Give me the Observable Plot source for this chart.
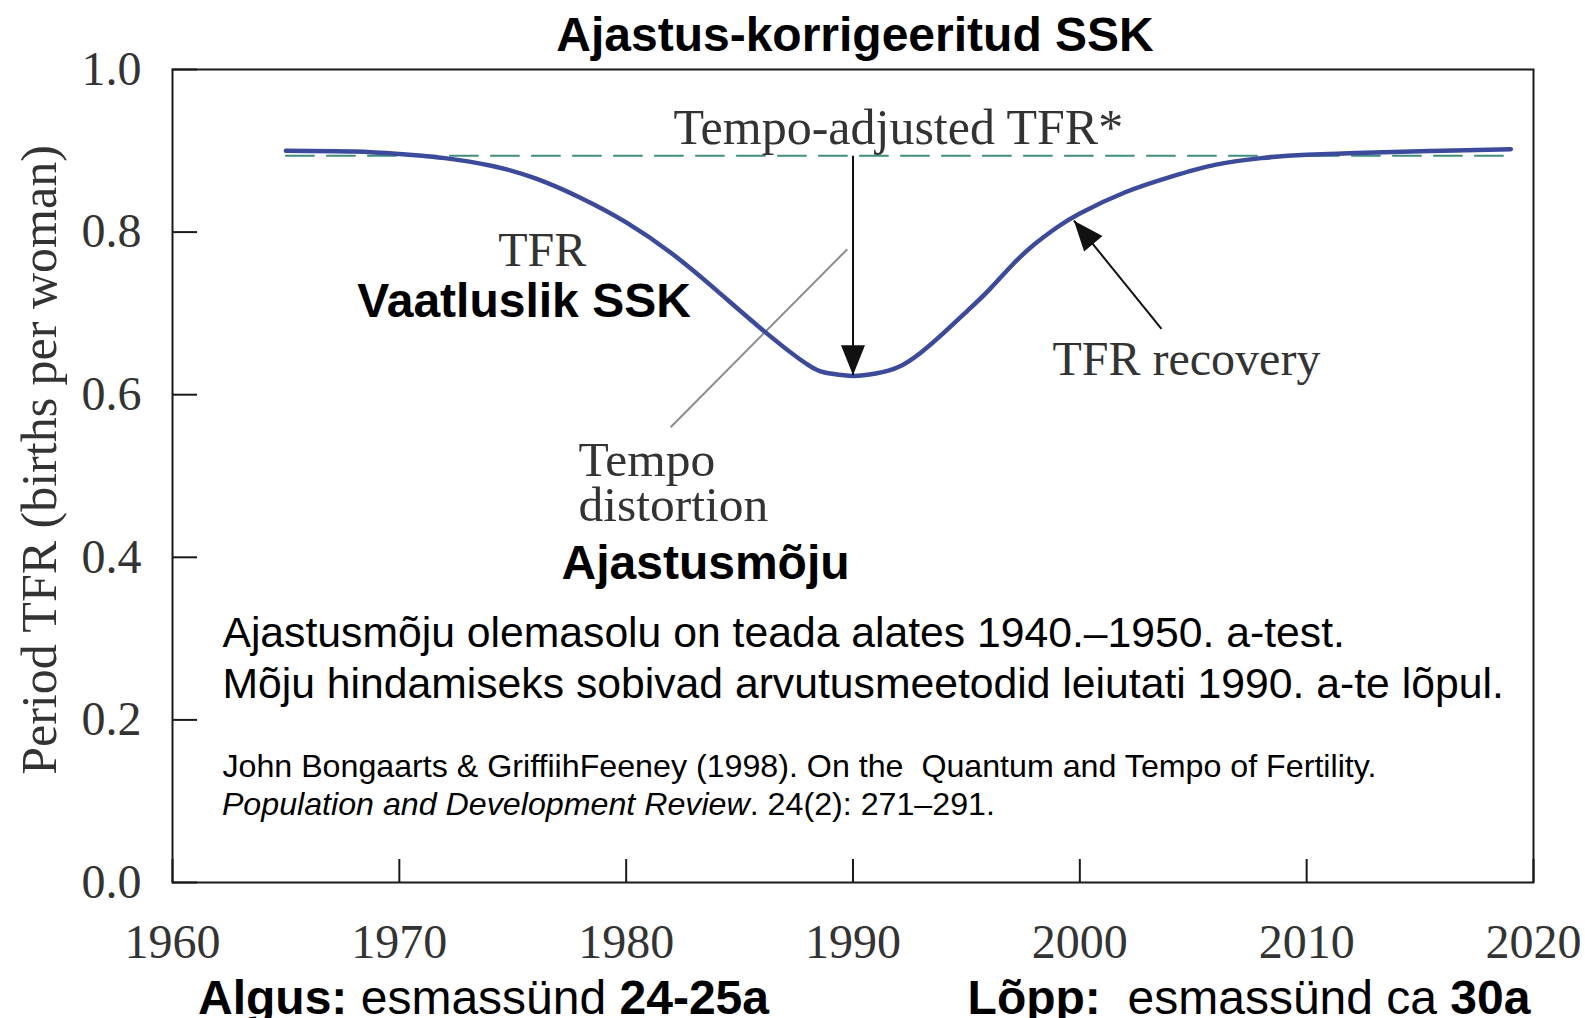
<!DOCTYPE html>
<html><head><meta charset="utf-8">
<script src="https://cdn.jsdelivr.net/npm/d3@7"></script>
<script src="https://cdn.jsdelivr.net/npm/@observablehq/plot@0.6"></script>
<style>html,body{margin:0;padding:0;background:#fff;overflow:hidden}</style>
</head><body><div id="chart"></div>
<script>
// ---- data ----
const years = [1965, 1968, 1970, 1971, 1972, 1974, 1976, 1978, 1980, 1982, 1984, 1986, 1988, 1989, 1990, 1991, 1992, 1993, 1994, 1995, 1996, 1997, 1998, 1999, 2000, 2002, 2004, 2006, 2008, 2010, 2013, 2016, 2019];
const tfr   = [0.900, 0.899, 0.896, 0.894, 0.891, 0.882, 0.866, 0.842, 0.812, 0.774, 0.728, 0.680, 0.637, 0.626, 0.623, 0.626, 0.634, 0.652, 0.676, 0.702, 0.729, 0.759, 0.785, 0.806, 0.823, 0.849, 0.868, 0.883, 0.891, 0.895, 0.898, 0.900, 0.902];
const adjustedYears = [1965, 2019];
const adjustedTfr = [0.894, 0.894];
const xTicks = [1960, 1970, 1980, 1990, 2000, 2010, 2020];
const yTicks = [0, 0.2, 0.4, 0.6, 0.8, 1.0];

const title = "Ajastus-korrigeeritud SSK";
const yLabel = "Period TFR (births per woman)";
const serifNotes = ["Tempo-adjusted TFR*", "TFR", "TFR recovery"];
const serifNoteYear = [1992.0, 1976.3, 2004.7];
const serifNoteValue = [0.928, 0.777, 0.643];
const distortionLines = ["Tempo", "distortion"];
const distortionYear = [1977.9, 1977.9];
const distortionValue = [0.519, 0.4637];
const boldNotes = ["Vaatluslik SSK", "Ajastusmõju"];
const boldNoteYear = [1975.5, 1983.5];
const boldNoteValue = [0.715, 0.392];
const paragraph = ["Ajastusmõju olemasolu on teada alates 1940.–1950. a-test.", "Mõju hindamiseks sobivad arvutusmeetodid leiutati 1990. a-te lõpul."];
const paragraphYear = [1962.2, 1962.2];
const paragraphValue = [0.306, 0.2435];
const citation1 = "John Bongaarts & GriffiihFeeney (1998). On the  Quantum and Tempo of Fertility.";
const citationJournal = "Population and Development Review";
const citationRest = ". 24(2): 271–291.";
const captionStart = [["Algus:", true], [" esmassünd ", false], ["24-25a", true]];
const captionEnd = [["Lõpp:", true], ["  esmassünd ca ", false], ["30a", true]];

// arrows (year, value)
const distortionArrow = {x1: 1990, y1: 0.894, x2: 1990, y2: 0.624};
const recoveryArrow = {x1: 2003.6, y1: 0.681, x2: 1999.74, y2: 0.814};
const leader = {x1: 1989.75, y1: 0.779, x2: 1981.96, y2: 0.560};

// ---- build ----
const series = years.map((d, i) => ({year: d, value: tfr[i]}));
const adjusted = adjustedYears.map((d, i) => ({year: d, value: adjustedTfr[i]}));
const zip3 = (t, xs, ys) => t.map((d, i) => ({text: d, x: xs[i], y: ys[i]}));

const headSymbol = {draw(context) { context.moveTo(0, 0); context.lineTo(-12, -30); context.lineTo(12, -30); context.closePath(); }};
const SANS = "'Liberation Sans', Arial, sans-serif";
const SERIF = "'Liberation Serif', 'Times New Roman', serif";

const chart = Plot.plot({
  width: 1585, height: 1018,
  marginLeft: 172, marginRight: 52, marginTop: 69, marginBottom: 136,
  style: {fontFamily: SERIF, fontSize: "48px", color: "#333", background: "#fff"},
  x: {domain: [1960, 2020]},
  y: {domain: [0, 1]},
  marks: [
    Plot.axisX({ticks: xTicks, tickSize: -23, tickFormat: () => "", stroke: "#1a1a1a", strokeWidth: 2, label: null}),
    Plot.axisX({ticks: xTicks, tickSize: 0, tickPadding: 41, tickFormat: d => String(d), label: null, fill: "#333"}),
    Plot.axisY({ticks: yTicks, tickSize: -25, tickFormat: () => "", stroke: "#1a1a1a", strokeWidth: 2, label: null}),
    Plot.axisY({ticks: yTicks, tickSize: 0, tickPadding: 31, tickFormat: d => d.toFixed(1), label: null, fill: "#333"}),
    Plot.frame({stroke: "#1a1a1a", strokeWidth: 2}),
    Plot.text([title], {frameAnchor: "top", lineAnchor: "middle", dy: -34, dx: 2, fontFamily: SANS, fontWeight: "bold", fontSize: 48, fill: "#000"}),
    Plot.line(adjusted, {x: "year", y: "value", stroke: "#3f8f7c", strokeWidth: 2, strokeDasharray: "28,13"}),
    Plot.link([leader], {x1: "x1", y1: "y1", x2: "x2", y2: "y2", stroke: "#8c8c8c", strokeWidth: 2}),
    Plot.line(series, {x: "year", y: "value", curve: "natural", stroke: "#3b4a9b", strokeWidth: 4.5}),
    Plot.link([distortionArrow, recoveryArrow], {x1: "x1", y1: "y1", x2: "x2", y2: "y2", stroke: "#111", strokeWidth: 2}),
    Plot.dot([distortionArrow], {x: "x2", y: "y2", symbol: headSymbol, r: 5, fill: "#111", stroke: null, rotate: 0}),
    Plot.dot([recoveryArrow], {x: "x2", y: "y2", symbol: headSymbol, r: 5, fill: "#111", stroke: null, rotate: 139.8}),
    Plot.text(zip3(serifNotes, serifNoteYear, serifNoteValue), {x: "x", y: "y", text: "text", fill: "#333", fontSize: (d, i) => i === 0 ? 50 : 48}),
    Plot.text(zip3(distortionLines, distortionYear, distortionValue), {x: "x", y: "y", text: "text", textAnchor: "start", fill: "#333", fontSize: 49.5}),
    Plot.text(zip3(boldNotes, boldNoteYear, boldNoteValue), {x: "x", y: "y", text: "text", fontFamily: SANS, fontWeight: "bold", fontSize: 48, fill: "#000"}),
    Plot.text(zip3(paragraph, paragraphYear, paragraphValue), {x: "x", y: "y", text: "text", textAnchor: "start", fontFamily: SANS, fontSize: 42.7, fill: "#000"}),
    Plot.text([citation1], {x: () => paragraphYear[0], y: () => 0.1427, textAnchor: "start", fontFamily: SANS, fontSize: 32.2, fill: "#000"})
  ]
});
document.getElementById("chart").appendChild(chart);

const svg = d3.select(chart);
const xs = chart.scale("x"), ys = chart.scale("y");
svg.selectAll("text").style("white-space", "pre");

// y-axis title
svg.append("text").attr("transform", "translate(56,460) rotate(-90)").attr("text-anchor", "middle")
  .attr("font-family", SERIF).attr("font-size", 50).attr("fill", "#333").text(yLabel);

// citation line 2 (italic journal + regular)
const c2 = svg.append("text").attr("x", xs.apply(paragraphYear[0])).attr("y", ys.apply(0.096) + 11)
  .attr("text-anchor", "start").attr("font-family", SANS).attr("font-size", 32.2).attr("fill", "#000");
c2.append("tspan").attr("font-style", "italic").text(citationJournal);
c2.append("tspan").text(citationRest);

// bottom captions
function caption(parts, cx) {
  const t = svg.append("text").attr("x", cx).attr("y", 1014).attr("text-anchor", "middle")
    .attr("font-family", SANS).attr("font-size", 48).attr("fill", "#000").style("white-space", "pre");
  parts.forEach(([s, b]) => t.append("tspan").attr("font-weight", b ? "bold" : "normal").text(s));
}
caption(captionStart, 483.5);
caption(captionEnd, 1249);
</script>
</body></html>
